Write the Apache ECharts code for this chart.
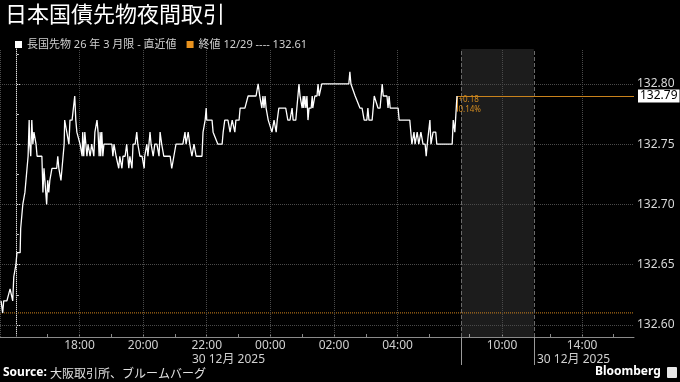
<!DOCTYPE html>
<html>
<head>
<meta charset="utf-8">
<script src="https://cdn.jsdelivr.net/npm/echarts@6/dist/echarts.min.js"></script>
<style>
html,body{margin:0;padding:0;background:#000;}
#c{width:680px;height:382px;}
</style>
</head>
<body>
<div id="c"></div>
<script>
// ---------- DATA ----------
const titleText = '日本国債先物夜間取引';
const seriesName = '長国先物 26 年 3 月限 - 直近値';
const closeName = '終値 12/29 ---- 132.61';
const closeValue = 132.61;
const sourceText = '大阪取引所、ブルームバーグ';
const dateLabel = '30 12月 2025';

// minutes after 16:00 (night session, 29 -> 30 Dec 2025)
const tMin = [-28,-26,-25,-23,-17,-11,-8,-6,-4,0,2,8,9,11,13,17,21,23,25,26,28,30,32,34,36,38,40,49,51,53,55,58,60,62,64,68,77,79,81,85,87,89,91,92,94,96,98,100,102,106,109,111,113,115,117,121,123,125,126,128,130,132,134,136,140,143,147,149,153,155,157,159,160,162,164,166,168,181,183,185,189,191,194,196,200,202,206,209,213,215,219,221,225,228,230,234,238,242,243,247,249,253,255,259,262,266,270,272,275,279,287,291,294,298,302,309,315,319,321,325,328,332,336,340,351,353,357,359,360,370,372,381,389,391,394,400,404,408,413,415,421,423,428,432,438,453,457,460,464,466,468,470,472,476,479,483,487,491,493,496,509,513,517,521,523,528,530,534,536,538,540,542,543,545,547,549,551,553,557,559,560,564,568,570,572,574,577,628,630,632,640,649,653,657,662,664,666,672,676,679,683,687,691,693,700,702,704,706,721,723,743,745,747,751,753,757,760,764,768,772,774,776,779,781,783,787,792,794,823,825,828,832];
const price = [132.62,132.62,132.61,132.62,132.62,132.63,132.63,132.62,132.64,132.65,132.66,132.66,132.68,132.69,132.70,132.71,132.73,132.74,132.77,132.75,132.74,132.77,132.75,132.76,132.76,132.75,132.74,132.74,132.71,132.73,132.73,132.70,132.72,132.71,132.72,132.73,132.73,132.74,132.73,132.72,132.73,132.74,132.75,132.77,132.77,132.76,132.76,132.75,132.77,132.77,132.77,132.79,132.77,132.76,132.76,132.75,132.75,132.74,132.76,132.74,132.76,132.76,132.74,132.75,132.74,132.75,132.74,132.76,132.77,132.76,132.74,132.76,132.74,132.76,132.74,132.75,132.75,132.75,132.74,132.75,132.74,132.74,132.73,132.74,132.73,132.74,132.74,132.75,132.73,132.74,132.73,132.75,132.75,132.76,132.75,132.74,132.74,132.73,132.74,132.75,132.74,132.76,132.75,132.74,132.75,132.75,132.74,132.76,132.75,132.74,132.74,132.74,132.73,132.74,132.75,132.75,132.75,132.76,132.75,132.76,132.75,132.74,132.75,132.74,132.74,132.76,132.77,132.78,132.77,132.77,132.76,132.75,132.75,132.76,132.77,132.77,132.76,132.77,132.76,132.77,132.77,132.78,132.78,132.78,132.79,132.79,132.80,132.79,132.78,132.79,132.78,132.79,132.78,132.77,132.77,132.76,132.77,132.76,132.77,132.78,132.78,132.77,132.77,132.78,132.77,132.77,132.77,132.80,132.79,132.79,132.78,132.79,132.78,132.79,132.78,132.79,132.77,132.78,132.78,132.79,132.78,132.79,132.79,132.80,132.79,132.79,132.80,132.80,132.81,132.80,132.79,132.78,132.78,132.77,132.77,132.78,132.77,132.77,132.79,132.79,132.78,132.78,132.80,132.79,132.79,132.78,132.79,132.78,132.78,132.77,132.77,132.76,132.75,132.76,132.75,132.76,132.75,132.76,132.75,132.75,132.74,132.75,132.75,132.77,132.75,132.76,132.76,132.75,132.75,132.77,132.76,132.79];

// axis (minutes after 16:00 on a compressed session scale)
const X_MIN = -30, X_MAX = 1166;
const xLabelPos = [120, 240, 360, 480, 600, 720, 917, 1068];
const xLabelText = ['18:00', '20:00', '22:00', '00:00', '02:00', '04:00', '10:00', '14:00'];
const xTickPos = [0, 60, 120, 180, 240, 300, 360, 420, 480, 540, 600, 660, 720, 780, 855, 917, 1008, 1068, 1127];
const xGridPos = [-29, 0, 120, 240, 360, 480, 600, 720, 917, 1068];
const sessionBreaks = [840, 977];
const dateLabelPos = [332, 983];
const Y_MIN = 132.59, Y_MAX = 132.829;
const yLabels = [132.60, 132.65, 132.70, 132.75, 132.80];
const yMinor = [132.625, 132.675, 132.725, 132.775, 132.825];

// ---------- CHART ----------
const FONT = '"Noto Sans", "Noto Sans CJK JP", sans-serif';
const ORANGE = '#e8921e';
const lastT = tMin[tMin.length - 1];
const lastV = price[price.length - 1];
const chg = lastV - closeValue;
const chgTxt = (chg >= 0 ? '+' : '') + chg.toFixed(2) + '\n' + (chg / closeValue * 100).toFixed(2) + '%';

const chart = echarts.init(document.getElementById('c'), null, {renderer: 'canvas'});
const gridLineStyle = {color: '#4a4a4a', type: 'dotted', width: 1};

const option = {
  backgroundColor: '#000',
  animation: false,
  textStyle: {fontFamily: FONT},
  title: {
    text: titleText, left: 0, top: 0,
    textStyle: {color: '#fff', fontSize: 22, fontWeight: 'normal', fontFamily: FONT}
  },
  legend: {
    left: 10, top: 34, icon: 'rect', itemWidth: 7, itemHeight: 7, itemGap: 10,
    textStyle: {color: '#d0d0d0', fontSize: 11, fontFamily: FONT},
    data: [seriesName, closeName]
  },
  grid: {left: 0, right: 46, top: 49, bottom: 45, containLabel: false, outerBoundsMode: 'none'},
  xAxis: [
    {
      type: 'value', min: X_MIN, max: X_MAX, position: 'bottom',
      axisLine: {show: true, lineStyle: {color: '#8a8a8a', width: 1}},
      axisTick: {show: true, inside: true, length: 3, customValues: xTickPos, lineStyle: {color: '#8a8a8a'}},
      axisLabel: {
        customValues: xLabelPos, color: '#d0d0d0', fontSize: 12, margin: 3,
        formatter: v => xLabelText[xLabelPos.indexOf(v)] || ''
      },
      splitLine: {show: false}
    },
    {
      type: 'value', min: X_MIN, max: X_MAX, position: 'bottom',
      axisLine: {show: false},
      axisTick: {show: true, length: 28, customValues: sessionBreaks, lineStyle: {color: '#9a9a9a'}},
      axisLabel: {show: false},
      splitLine: {show: false}
    },
    {
      type: 'value', min: X_MIN, max: X_MAX, position: 'bottom',
      axisLine: {show: false},
      axisTick: {show: false},
      axisLabel: {
        customValues: dateLabelPos, formatter: () => dateLabel, align: 'left',
        color: '#d0d0d0', fontSize: 12, margin: 17
      },
      splitLine: {show: false}
    }
  ],
  yAxis: [
    {
      type: 'value', min: Y_MIN, max: Y_MAX, position: 'right',
      axisLine: {show: true, lineStyle: {color: '#e0e0e0', width: 1}},
      axisTick: {show: true, length: 5, customValues: yLabels, lineStyle: {color: '#e0e0e0'}},
      axisLabel: {customValues: yLabels, formatter: v => v.toFixed(2), color: '#d8d8d8', fontSize: 12, margin: 3},
      splitLine: {show: false}
    },
    {
      type: 'value', min: Y_MIN, max: Y_MAX, position: 'right',
      axisLine: {show: false},
      axisTick: {show: true, length: 3, customValues: yMinor, lineStyle: {color: '#cfcfcf'}},
      axisLabel: {show: false},
      splitLine: {show: false}
    }
  ],
  series: [
    {
      name: 'grid', type: 'line', data: [], silent: true, z: 1,
      markLine: {
        silent: true, symbol: ['none', 'none'], label: {show: false},
        lineStyle: gridLineStyle,
        data: xGridPos.map(x => ({xAxis: x}))
          .concat(yLabels.map(y => ({yAxis: y})))
          .concat(sessionBreaks.map(x => ({xAxis: x, lineStyle: {color: '#6a6a6a', type: 'dashed', width: 1}})))
      },
      markArea: {
        silent: true,
        itemStyle: {color: 'rgba(255,255,255,0.11)'},
        data: [[{xAxis: sessionBreaks[0]}, {xAxis: sessionBreaks[1]}]]
      }
    },
    {
      name: closeName, type: 'line', z: 3,
      data: [[X_MIN, closeValue], [X_MAX, closeValue]],
      showSymbol: false, silent: true,
      itemStyle: {color: ORANGE},
      lineStyle: {color: '#d2841c', type: 'dotted', width: 1}
    },
    {
      name: seriesName, type: 'line', z: 5,
      data: tMin.map((t, i) => [t, price[i]]),
      showSymbol: false,
      itemStyle: {color: '#ffffff'},
      lineStyle: {color: '#ffffff', width: 1.3},
      markLine: {
        silent: true, symbol: ['none', 'none'],
        lineStyle: {color: '#c9821c', type: 'solid', width: 1},
        data: [
          [{coord: [lastT, lastV]}, {coord: [X_MAX, lastV],
            label: {show: true, position: 'end', distance: 4, formatter: lastV.toFixed(2),
              color: '#000', backgroundColor: '#fff', padding: [1, 2, 0, 2], fontSize: 12, fontFamily: FONT}}],
          [{coord: [lastT, lastV]}, {coord: [lastT, lastV - 0.013], label: {show: false}}]
        ]
      },
      markPoint: {
        silent: true, symbol: 'rect', symbolSize: 1,
        itemStyle: {color: 'rgba(0,0,0,0)'},
        label: {show: true, position: [2, -1], formatter: chgTxt, color: '#d08a20', fontSize: 8, lineHeight: 10, fontFamily: FONT},
        data: [{coord: [lastT, lastV]}]
      }
    }
  ],
  graphic: [
    {
      type: 'text', left: 3, top: 367,
      style: {
        text: '{b|Source:} {n|' + sourceText + '}',
        rich: {
          b: {fontWeight: 'bold', fontSize: 12, fill: '#ffffff', fontFamily: FONT},
          n: {fontSize: 12, fill: '#e0e0e0', fontFamily: '"Noto Sans CJK JP", sans-serif'}
        }
      }
    },
    {
      type: 'text', left: 595, top: 366,
      style: {text: 'Bloomberg', fontWeight: 'bold', fontSize: 12, fill: '#ffffff', fontFamily: FONT}
    },
    {
      type: 'rect', left: 667, top: 367,
      shape: {width: 10, height: 11, r: 1},
      style: {fill: '#e8e8e8'}
    }
  ]
};
chart.setOption(option);
</script>
</body>
</html>
